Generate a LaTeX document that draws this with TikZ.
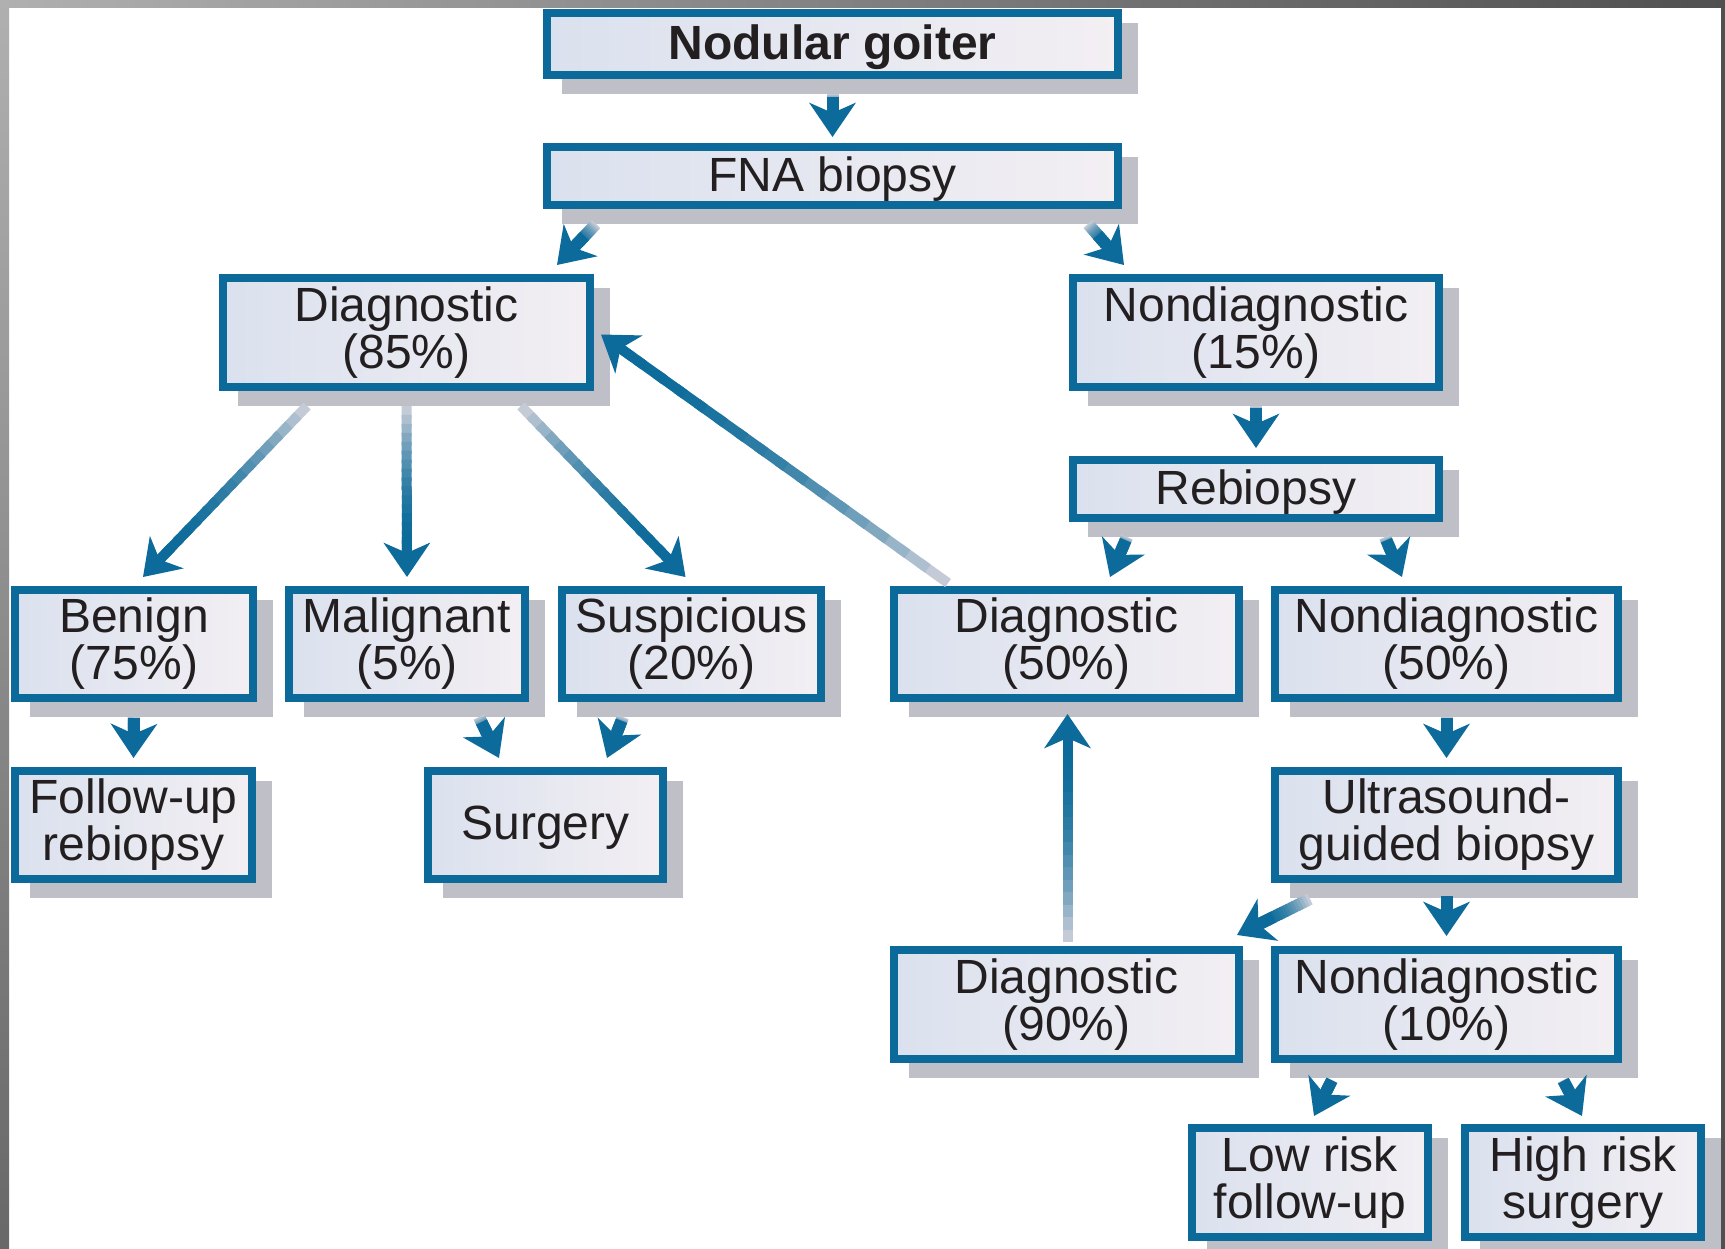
\documentclass[tikz,border=0pt]{standalone}
\usepackage{fontspec}
\setmainfont{Liberation Sans}
\usetikzlibrary{arrows.meta,calc}
\definecolor{bblue}{HTML}{0B6A99}
\definecolor{ablue}{HTML}{0C6B9A}
\definecolor{apale}{HTML}{C4CBD6}
\definecolor{fillL}{HTML}{DAE1EE}
\definecolor{fillR}{HTML}{F3EFF3}
\definecolor{shadowc}{HTML}{BFBFC8}
\definecolor{txt}{HTML}{231F20}
\definecolor{frA}{HTML}{B0B0B0}
\definecolor{frB}{HTML}{686868}
\definecolor{frC}{HTML}{505050}
\pgfdeclarelayer{bg}
\pgfsetlayers{bg,main}
\newcommand\garrow[3][12]{%
  \path #2 coordinate (gS) #3 coordinate (gE);
  \coordinate (gH) at ($(gE)!28pt!(gS)$);
  \foreach \i [evaluate=\i as \p using {int(100*(1-(1-\i/15)^2))},
               evaluate=\i as \ta using {\i/16},
               evaluate=\i as \tb using {(\i+1.4)/16}] in {0,...,15} {
    \draw[line width=#1, draw=ablue!\p!apale] ($(gS)!\ta!(gH)$) -- ($(gS)!\tb!(gH)$);
  }
  \draw[ablue, line width=#1, -{Stealth[length=34pt,width=46pt,inset=10pt]}] ($(gE)!40pt!(gS)$) -- (gE);
}
\newcommand\lowr[1]{\raisebox{-3pt}[\height][\depth]{#1}}
\tikzset{
  box/.style={draw=bblue, line width=8pt, left color=fillL, right color=fillR,
    inner sep=0pt, align=center, font=\fontsize{48}{47}\selectfont, text=txt},
}
\begin{document}
\begin{tikzpicture}[x=1pt,y=-1pt]
\useasboundingbox (0,0) rectangle (1725,1249);
% nodes
\node[box, minimum width=571pt, minimum height=62pt] (nod) at (832.5,44) {\lowr{\bfseries Nodular goiter}};
\node[box, minimum width=571pt, minimum height=58pt] (fna) at (832.5,176) {\lowr{FNA biopsy}};
\node[box, minimum width=367pt, minimum height=109pt] (d85) at (406.5,332.5) {Diagnostic\\(85\%)};
\node[box, minimum width=366pt, minimum height=109pt] (n15) at (1256,332.5) {Nondiagnostic\\(15\%)};
\node[box, minimum width=366pt, minimum height=58pt] (reb) at (1256,489) {\lowr{Rebiopsy}};
\node[box, minimum width=238pt, minimum height=108pt] (ben) at (134,644) {Benign\\(75\%)};
\node[box, minimum width=236pt, minimum height=108pt] (mal) at (407,644) {Malignant\\(5\%)};
\node[box, minimum width=259pt, minimum height=108pt] (sus) at (691.5,644) {Suspicious\\(20\%)};
\node[box, minimum width=345pt, minimum height=108pt] (d50) at (1066.5,644) {Diagnostic\\(50\%)};
\node[box, minimum width=343pt, minimum height=108pt] (n50) at (1446.5,644) {Nondiagnostic\\(50\%)};
\node[box, minimum width=237pt, minimum height=108pt] (fol) at (133.5,825) {Follow-up\\rebiopsy};
\node[box, minimum width=235pt, minimum height=108pt] (sur) at (545.5,825) {\lowr{Surgery}};
\node[box, minimum width=343pt, minimum height=108pt] (us) at (1446.5,825) {Ultrasound-\\guided biopsy};
\node[box, minimum width=345pt, minimum height=109pt] (d90) at (1066.5,1004.5) {Diagnostic\\(90\%)};
\node[box, minimum width=343pt, minimum height=109pt] (n10) at (1446.5,1004.5) {Nondiagnostic\\(10\%)};
\node[box, minimum width=236pt, minimum height=109pt] (low) at (1310,1182.5) {Low risk\\follow-up};
\node[box, minimum width=236pt, minimum height=109pt] (high) at (1583,1182.5) {High risk\\surgery};
% background and shadows
\begin{pgfonlayer}{bg}
\fill[white] (0,0) rectangle (1725,1249);
\foreach \n in {nod,fna,d85,n15,reb,ben,mal,sus,d50,n50,fol,sur,us,d90,n10,low,high}{
  \fill[shadowc] ($(\n.north west)+(19,14)$) rectangle ($(\n.south east)+(16,15)$);
}
\end{pgfonlayer}
% connectors
\garrow{($(nod.south)+(0,15)$)}{($(fna.north)+(0,-6)$)}
\garrow{($(fna.south west)+(53,15)$)}{($(d85.north east)+(-37,-9)$)}
\garrow{($(fna.south east)+(-34,15)$)}{($(n15.north west)+(55,-9)$)}
\garrow[10]{($(d85.south west)+(88,15)$)}{($(ben.north)+(9,-9)$)}
\garrow[10]{($(d85.south)+(0,15)$)}{($(mal.north)+(0,-9)$)}
\garrow[10]{($(d85.south east)+(-73,15)$)}{($(sus.north)+(-6,-9)$)}
\garrow[10]{($(d50.north west)+(58,-3)$)}{($(d85.east)+(7,2)$)}
\garrow{($(n15.south)+(0,15)$)}{($(reb.north)+(0,-8)$)}
\garrow{($(reb.south west)+(58,15)$)}{($(d50.north east)+(-133,-9)$)}
\garrow{($(reb.south east)+(-58,15)$)}{($(n50.north west)+(131,-9)$)}
\garrow{($(ben.south)+(0,15)$)}{($(fol.north)+(0,-9)$)}
\garrow{($(mal.south east)+(-50,15)$)}{($(sur.north west)+(75,-9)$)}
\garrow{($(sus.south west)+(65,15)$)}{($(sur.north east)+(-60,-9)$)}
\garrow{($(n50.south)+(0,15)$)}{($(us.north)+(0,-9)$)}
\garrow{($(us.south west)+(39,16)$)}{($(d90.north east)+(-6,-11)$)}
\garrow{($(us.south)+(0,16)$)}{($(n10.north)+(0,-10)$)}
\garrow[10]{($(d90.north)+(1,-4)$)}{($(d50.south)+(1,12)$)}
\garrow{($(n10.south west)+(61,17)$)}{($(low.north)+(4,-8)$)}
\garrow{($(n10.south east)+(-59,17)$)}{($(high.north)+(-1,-8)$)}
% frame
\shade[left color=frA, middle color=frB, right color=frC] (0,0) rectangle (1725,8);
\shade[top color=frA, bottom color=frB] (0,0) rectangle (9,1249);
\fill[frC] (1721,0) rectangle (1725,1249);
\end{tikzpicture}
\end{document}
